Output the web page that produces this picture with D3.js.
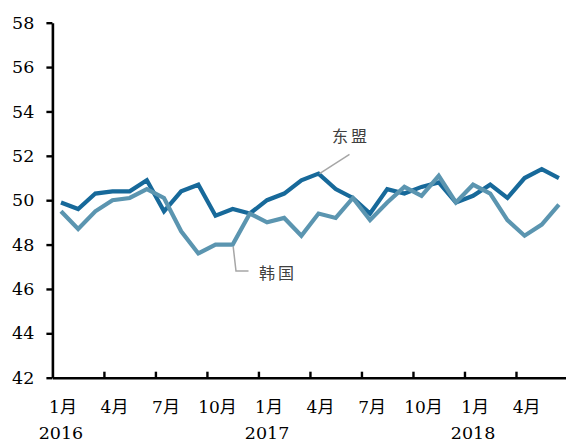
<!DOCTYPE html>
<html>
<head>
<meta charset="utf-8">
<script src="https://cdn.jsdelivr.net/npm/d3@7"></script>
<style>
  html, body { margin: 0; padding: 0; background: #fff; }
  svg { display: block; }
</style>
</head>
<body>
<svg id="chart" width="566" height="443"></svg>
<script>
// Monthly PMI, Jan 2016 – Jun 2018
const monthLabels = ["1月","2月","3月","4月","5月","6月","7月","8月","9月","10月","11月","12月",
                     "1月","2月","3月","4月","5月","6月","7月","8月","9月","10月","11月","12月",
                     "1月","2月","3月","4月","5月","6月"];
const yearLabels = [{ idx: 0, text: "2016" }, { idx: 12, text: "2017" }, { idx: 24, text: "2018" }];
const asean = [49.9, 49.6, 50.3, 50.4, 50.4, 50.9, 49.5, 50.4, 50.7, 49.3, 49.6, 49.4,
               50.0, 50.3, 50.9, 51.2, 50.5, 50.1, 49.4, 50.5, 50.3, 50.6, 50.8, 49.9,
               50.2, 50.7, 50.1, 51.0, 51.4, 51.0];
const korea = [49.5, 48.7, 49.5, 50.0, 50.1, 50.5, 50.1, 48.6, 47.6, 48.0, 48.0, 49.4,
               49.0, 49.2, 48.4, 49.4, 49.2, 50.1, 49.1, 49.9, 50.6, 50.2, 51.1, 49.9,
               50.7, 50.3, 49.1, 48.4, 48.9, 49.8];
const yTicks = [42, 44, 46, 48, 50, 52, 54, 56, 58];
const seriesNames = ["东盟", "韩国"];

const svg = d3.select("#chart");
const numFont = "'DejaVu Serif', 'Noto Sans CJK SC', serif";

const x = d3.scaleLinear().domain([-0.5, monthLabels.length - 0.5]).range([52.4, 567.5]);
const y = d3.scaleLinear().domain([42, 58]).range([377.7, 22.7]);

// y axis
const yAxis = svg.append("g")
  .attr("transform", `translate(${x(-0.5)},0)`)
  .call(d3.axisLeft(y).tickValues(yTicks).tickSize(6).tickSizeOuter(0).tickPadding(12));
yAxis.select(".domain").attr("stroke", "#000").attr("stroke-width", 2.6);
yAxis.selectAll(".tick line").attr("stroke", "#000").attr("stroke-width", 2.4);
yAxis.selectAll(".tick text")
  .attr("font-family", numFont).attr("font-size", 17.5).attr("fill", "#000");

// x axis: tick marks between categories every quarter, pointing inward
const quarterBounds = d3.range(2.5, monthLabels.length, 3);
const xAxis = svg.append("g")
  .attr("transform", `translate(0,${y(42)})`)
  .call(d3.axisBottom(x).tickValues(quarterBounds).tickSize(-6).tickSizeOuter(0).tickFormat(""));
xAxis.select(".domain").attr("stroke", "#000").attr("stroke-width", 2.6);
xAxis.selectAll(".tick line").attr("stroke", "#000").attr("stroke-width", 2.4);

// month labels at category centres, every third month
const labelIdx = d3.range(0, monthLabels.length, 3);
svg.append("g").selectAll("text").data(labelIdx).join("text")
  .attr("x", d => x(d) + 2)
  .attr("y", 413)
  .attr("text-anchor", "middle")
  .attr("font-family", numFont).attr("font-size", 17).attr("fill", "#000")
  .text(d => monthLabels[d]);

svg.append("g").selectAll("text").data(yearLabels).join("text")
  .attr("x", d => x(d.idx))
  .attr("y", 439)
  .attr("text-anchor", "middle")
  .attr("font-family", numFont).attr("font-size", 17.5).attr("fill", "#000")
  .text(d => d.text);

// series lines
const line = d3.line().x((d, i) => x(i)).y(d => y(d));
svg.append("path").datum(asean)
  .attr("d", line).attr("fill", "none")
  .attr("stroke", "#17699a").attr("stroke-width", 4.2).attr("stroke-linejoin", "miter");
svg.append("path").datum(korea)
  .attr("d", line).attr("fill", "none")
  .attr("stroke", "#5b95b0").attr("stroke-width", 4.2).attr("stroke-linejoin", "miter");

// series callouts
const labelFont = "'Noto Sans CJK SC', sans-serif";
const aIdx = 15;
svg.append("line")
  .attr("x1", x(aIdx) + 1).attr("y1", y(asean[aIdx]))
  .attr("x2", 349.5).attr("y2", 154.3)
  .attr("stroke", "#a6a6a6").attr("stroke-width", 1.5);
svg.append("text")
  .attr("x", 351).attr("y", 142)
  .attr("text-anchor", "middle")
  .attr("font-family", labelFont).attr("font-size", 16).attr("fill", "#404040")
  .attr("letter-spacing", 3)
  .text(seriesNames[0]);

const kIdx = 10;
svg.append("path")
  .attr("d", `M${x(kIdx) + 0.5},${y(korea[kIdx]) + 2} L236,271 L248.5,271`)
  .attr("fill", "none")
  .attr("stroke", "#a6a6a6").attr("stroke-width", 1.5);
svg.append("text")
  .attr("x", 278).attr("y", 278.5)
  .attr("text-anchor", "middle")
  .attr("font-family", labelFont).attr("font-size", 16).attr("fill", "#404040")
  .attr("letter-spacing", 3)
  .text(seriesNames[1]);
</script>
</body>
</html>
